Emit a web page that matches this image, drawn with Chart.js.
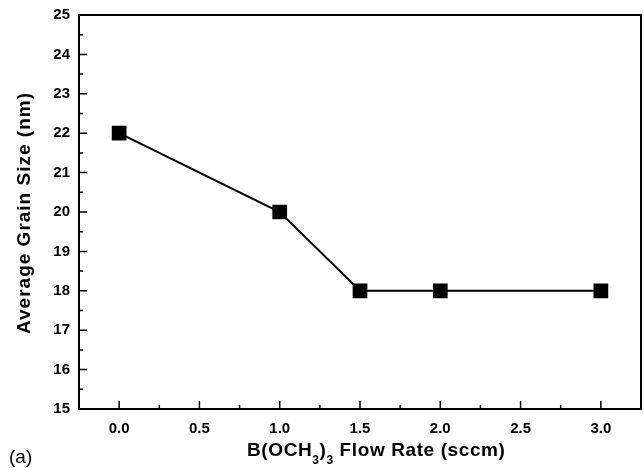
<!DOCTYPE html>
<html>
<head>
<meta charset="utf-8">
<script src="https://cdn.jsdelivr.net/npm/chart.js@4.4.1/dist/chart.umd.min.js"></script>
<style>
  html, body { margin: 0; padding: 0; background: #fff; }
  #wrap { width: 644px; height: 468px; }
</style>
</head>
<body>
<div id="wrap"><canvas id="grainChart" width="644" height="468"></canvas></div>
<script>
const flowRate = [0.0, 1.0, 1.5, 2.0, 3.0];
const grainSize = [22, 20, 18, 18, 18];
const xTicks = [0.0, 0.5, 1.0, 1.5, 2.0, 2.5, 3.0];
const xMinorTicks = [0.25, 0.75, 1.25, 1.75, 2.25, 2.75];
const yTicks = [15, 16, 17, 18, 19, 20, 21, 22, 23, 24, 25];
const yMinorTicks = [15.5, 16.5, 17.5, 18.5, 19.5, 20.5, 21.5, 22.5, 23.5, 24.5];

const FONT = '"Liberation Sans", Arial, sans-serif';

// frame, inward tick marks and axis titles
const framePlugin = {
    id: 'frame',
    afterDraw(chart) {
        const ctx = chart.ctx;
        const a = chart.chartArea;
        const xs = chart.scales.x, ys = chart.scales.y;
        ctx.save();
        ctx.strokeStyle = '#000';
        ctx.lineWidth = 2;
        ctx.strokeRect(a.left, a.top, a.right - a.left, a.bottom - a.top);

        ctx.lineWidth = 1.5;
        ctx.beginPath();
        xTicks.forEach(v => {
            const px = xs.getPixelForValue(v);
            ctx.moveTo(px, a.bottom); ctx.lineTo(px, a.bottom - 8);
        });
        xMinorTicks.forEach(v => {
            const px = xs.getPixelForValue(v);
            ctx.moveTo(px, a.bottom); ctx.lineTo(px, a.bottom - 4);
        });
        yTicks.forEach(v => {
            const py = ys.getPixelForValue(v);
            ctx.moveTo(a.left, py); ctx.lineTo(a.left + 8, py);
        });
        yMinorTicks.forEach(v => {
            const py = ys.getPixelForValue(v);
            ctx.moveTo(a.left, py); ctx.lineTo(a.left + 4, py);
        });
        ctx.stroke();

        ctx.fillStyle = '#000';
        // y title
        ctx.save();
        ctx.translate(25, 213);
        ctx.rotate(-Math.PI / 2);
        ctx.font = 'bold 19px ' + FONT;
        ctx.letterSpacing = '1px';
        ctx.textAlign = 'center';
        ctx.textBaseline = 'middle';
        ctx.fillText('Average Grain Size (nm)', 0, 0);
        ctx.restore();

        // x title with subscripts
        const parts = [['B(OCH', false], ['3', true], [')', false], ['3', true], [' Flow Rate (sccm)', false]];
        const base = 456;
        ctx.textBaseline = 'alphabetic';
        ctx.textAlign = 'left';
        ctx.letterSpacing = '0.6px';
        let x = 247;
        parts.forEach(([t, sub]) => {
            ctx.font = 'bold ' + (sub ? 12 : 19) + 'px ' + FONT;
            ctx.fillText(t, x, sub ? base + 8 : base);
            x += ctx.measureText(t).width;
        });
        ctx.letterSpacing = '0px';

        // panel label
        ctx.font = '19px ' + FONT;
        ctx.fillText('(a)', 9, 463);
        ctx.restore();
    }
};

new Chart(document.getElementById('grainChart'), {
    type: 'line',
    data: {
        datasets: [{
            data: flowRate.map((x, i) => ({ x: x, y: grainSize[i] })),
            borderColor: '#000',
            borderWidth: 2,
            backgroundColor: '#000',
            pointStyle: 'rect',
            pointRadius: 9,
            pointHoverRadius: 9,
            tension: 0
        }]
    },
    options: {
        responsive: false,
        animation: false,
        layout: { autoPadding: false, padding: { left: 0, top: 15, right: 3, bottom: 0 } },
        plugins: { legend: { display: false }, tooltip: { enabled: false } },
        scales: {
            x: {
                type: 'linear',
                min: -0.25,
                max: 3.25,
                grid: { display: false, drawTicks: false },
                border: { display: false },
                afterBuildTicks: s => { s.ticks = xTicks.map(v => ({ value: v })); },
                afterFit: s => {
                    s.height = 59;
                    s.paddingLeft = 0; s.paddingRight = 0;
                },
                ticks: {
                    padding: 11,
                    color: '#000',
                    maxRotation: 0,
                    font: { family: FONT, size: 15, weight: 'bold' },
                    callback: v => Number(v).toFixed(1)
                }
            },
            y: {
                min: 15,
                max: 25,
                grid: { display: false, drawTicks: false },
                border: { display: false },
                afterBuildTicks: s => { s.ticks = yTicks.map(v => ({ value: v })); },
                afterFit: s => {
                    s.width = 79;
                    s.paddingTop = 0; s.paddingBottom = 0;
                },
                ticks: {
                    padding: 9,
                    color: '#000',
                    font: { family: FONT, size: 15, weight: 'bold' }
                }
            }
        }
    },
    plugins: [framePlugin]
});
</script>
</body>
</html>
